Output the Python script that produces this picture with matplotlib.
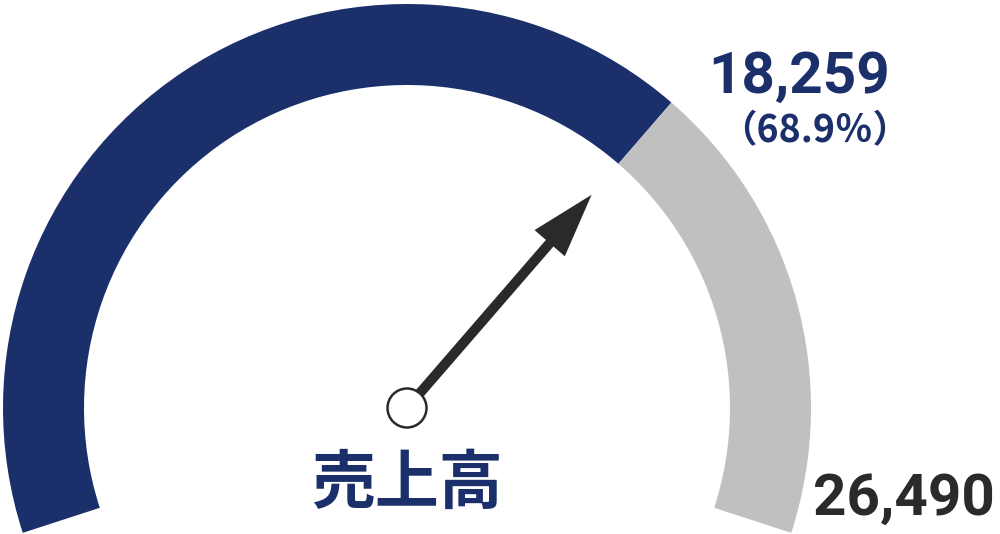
import numpy as np
import matplotlib
matplotlib.use("Agg")
import matplotlib.pyplot as plt
from matplotlib.patches import Wedge, Circle, FancyArrow

# gauge data
label = "売上高"
value = 18259
total = 26490

navy = "#1b2f6b"
grey = "#c0c0c0"
dark = "#2a2a2a"

# geometry (pixel units, y up)
cx, cy = 407, 126
R_out, band = 404, 81
overhang = 18          # degrees the arc dips below horizontal on each side
start = 180 + overhang
span = 180 + 2 * overhang

frac = value / total
ang = start - frac * span

fig = plt.figure(figsize=(10, 5.34), dpi=100)
ax = fig.add_axes([0, 0, 1, 1])
ax.set_xlim(0, 1000)
ax.set_ylim(0, 534)
ax.set_aspect("equal")
ax.axis("off")

ax.add_patch(Wedge((cx, cy), R_out, ang, start, width=band, color=navy, lw=0))
ax.add_patch(Wedge((cx, cy), R_out, -overhang, ang, width=band, color=grey, lw=0))

# needle
L = 282
rad = np.deg2rad(ang)
ax.add_patch(FancyArrow(cx, cy, L * np.cos(rad), L * np.sin(rad), width=10,
                        head_width=40, head_length=64, length_includes_head=True,
                        color=dark, lw=0, zorder=3))
ax.add_patch(Circle((cx, cy), 19.5, facecolor="white", edgecolor=dark, lw=1.8, zorder=4))

cjk = ["Noto Sans CJK JP", "DejaVu Sans"]
ax.text(799, 441, f"{value:,}", color=navy, fontsize=42, fontweight="bold",
        family="Roboto", ha="center", va="baseline")
ax.text(815, 392, f"（{frac * 100:.1f}％）", color=navy, fontsize=27, fontweight="bold",
        family=cjk, ha="center", va="baseline")
ax.text(407, 50, label, color=navy, fontsize=46, fontweight="bold",
        family=cjk, ha="center", va="center")
ax.text(995, 19, f"{total:,}", color=dark, fontsize=42, fontweight="bold",
        family="Roboto", ha="right", va="baseline")

fig.savefig("out.png", dpi=100)
